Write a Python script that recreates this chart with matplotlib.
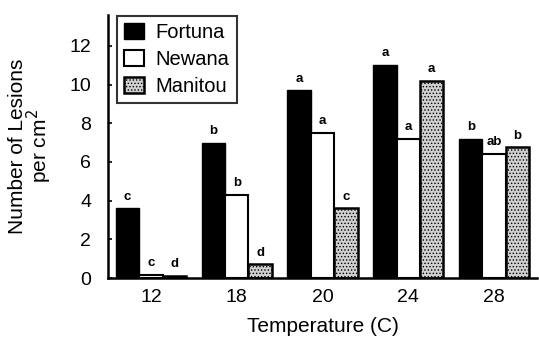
import matplotlib
matplotlib.use("Agg")
import matplotlib.pyplot as plt
import numpy as np

plt.rcParams['font.family'] = ['Liberation Sans', 'DejaVu Sans']
plt.rcParams['hatch.linewidth'] = 0.6
plt.rcParams['hatch.color'] = '#555555'

temps = ["12", "18", "20", "24", "28"]
fortuna = [3.6, 7.0, 9.7, 11.0, 7.2]
newana = [0.15, 4.3, 7.5, 7.2, 6.4]
manitou = [0.1, 0.7, 3.6, 10.2, 6.75]
fortuna_lbl = ["c", "b", "a", "a", "b"]
newana_lbl = ["c", "b", "a", "a", "ab"]
manitou_lbl = ["d", "d", "c", "a", "b"]

fig = plt.figure(figsize=(5.39, 3.43), dpi=100)
ax = fig.add_axes([0.2004, 0.1895, 0.796, 0.767])

x = np.arange(len(temps))
w = 0.273
b1 = ax.bar(x - w, fortuna, w, color='black', edgecolor='black', linewidth=1.0, label='Fortuna')
b2 = ax.bar(x, newana, w, color='white', edgecolor='black', linewidth=1.5, label='Newana')
b3 = ax.bar(x + w, manitou, w, color='#d0d0d0', edgecolor='black', linewidth=1.8,
            hatch='.....', label='Manitou')

for bars, lbls in ((b1, fortuna_lbl), (b2, newana_lbl), (b3, manitou_lbl)):
    for rect, s in zip(bars, lbls):
        ax.text(rect.get_x() + rect.get_width() / 2, rect.get_height() + 0.3, s,
                ha='center', va='bottom', fontsize=9.5, fontweight='bold')

ax.set_xlim(-0.5, 4.5)
ax.set_ylim(0, 13.6)
ax.set_xticks(x)
ax.set_xticklabels(temps)
ax.set_yticks([0, 2, 4, 6, 8, 10, 12])
ax.tick_params(axis='y', direction='in', length=3, width=1.2, labelsize=14, pad=12)
ax.tick_params(axis='x', length=0, labelsize=14, pad=8)
for s in ('top', 'right'):
    ax.spines[s].set_visible(False)
ax.spines['left'].set_linewidth(1.8)
ax.spines['bottom'].set_linewidth(1.8)

ax.set_xlabel('Temperature (C)', fontsize=15, labelpad=8)
ax.set_ylabel('Number of Lesions\nper cm$^2$', fontsize=15, labelpad=11, linespacing=0.9)

leg = ax.legend(loc='upper left', bbox_to_anchor=(0.02, 0.995), fontsize=14.5, frameon=True,
                fancybox=False, edgecolor='black', handlelength=1.0, handleheight=0.85,
                borderpad=0.35, labelspacing=0.4, handletextpad=0.6, borderaxespad=0.0)
leg.get_frame().set_linewidth(1.5)

fig.savefig('out.png', dpi=100)
